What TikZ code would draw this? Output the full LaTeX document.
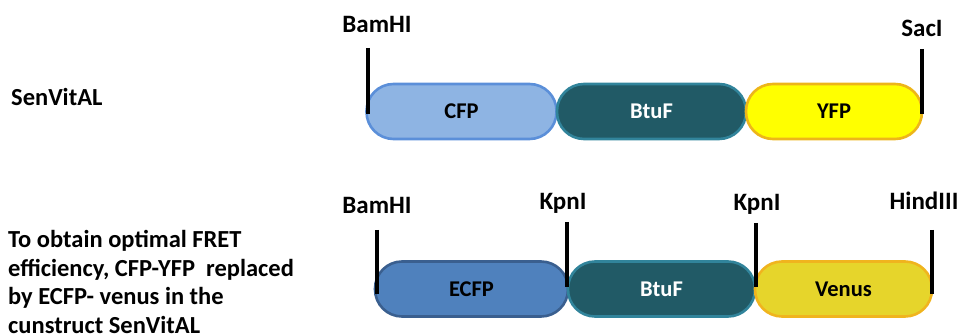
\documentclass[tikz,border=0pt]{standalone}
\usepackage{fontspec}
\setmainfont{Carlito}
\begin{document}
\begin{tikzpicture}[x=1pt,y=-1pt,
  pill/.style={draw, line width=2.6pt, rounded corners=27pt, minimum height=55pt,
    inner sep=0pt, font=\bfseries\fontsize{22.5}{26}\selectfont},
  site/.style={line width=4pt, black},
  sitelabel/.style={font=\bfseries\fontsize{25}{28}\selectfont, inner sep=0pt},
  note/.style={font=\bfseries\fontsize{24.5}{28.5}\selectfont, inner sep=0pt, anchor=west, align=left}
]
\definecolor{cfpfill}{HTML}{8EB4E3}
\definecolor{cfpline}{HTML}{5B8FD9}
\definecolor{btufill}{HTML}{215A66}
\definecolor{btuline}{HTML}{31849B}
\definecolor{yfpfill}{HTML}{FFFF00}
\definecolor{yfpline}{HTML}{EDB51A}
\definecolor{ecfpfill}{HTML}{4F81BD}
\definecolor{ecfpline}{HTML}{3A5F8F}
\definecolor{venusfill}{HTML}{E6D52B}
\definecolor{venusline}{HTML}{F0B41E}
\useasboundingbox (0,0) rectangle (963,336);

% ---- SenVitAL construct ----
\node[note] (sen) at (11,97) {SenVitAL};
\node[pill, fill=cfpfill, draw=cfpline, minimum width=190pt] (cfp) at (461.5,111.5) {CFP};
\node[pill, fill=btufill, draw=btuline, minimum width=189pt, text=white] (btuf1) at (651.5,111.5) {BtuF};
\node[pill, fill=yfpfill, draw=yfpline, minimum width=176pt] (yfp) at (834,111.5) {YFP};

\coordinate (s1t) at (368,48);  \coordinate (s1b) at (368,114);
\coordinate (s2t) at (922,49);  \coordinate (s2b) at (922,114);
\draw[site] (s1t) -- (s1b);
\draw[site] (s2t) -- (s2b);
\node[sitelabel] (bam1) at (377,24) {BamHI};
\node[sitelabel] (sac) at (922,28) {SacI};

% ---- modified construct ----
\node[note] (why) at (8,282) {To obtain optimal FRET\\efficiency, CFP-YFP\ \ replaced\\by ECFP- venus in the\\cunstruct SenVitAL};
\node[pill, fill=ecfpfill, draw=ecfpline, minimum width=193pt] (ecfp) at (471.5,289) {ECFP};
\node[pill, fill=btufill, draw=btuline, minimum width=187pt, text=white] (btuf2) at (661.5,289) {BtuF};
\node[pill, fill=venusfill, draw=venusline, minimum width=177pt] (venus) at (843.5,289) {Venus};

\coordinate (k1t) at (377,230); \coordinate (k1b) at (377,294);
\coordinate (k2t) at (567,222); \coordinate (k2b) at (567,287);
\coordinate (k3t) at (756,223); \coordinate (k3b) at (756,287);
\coordinate (k4t) at (932,230); \coordinate (k4b) at (932,294);
\draw[site] (k1t) -- (k1b);
\draw[site] (k2t) -- (k2b);
\draw[site] (k3t) -- (k3b);
\draw[site] (k4t) -- (k4b);
\node[sitelabel] (bam2) at (377,205) {BamHI};
\node[sitelabel] (kpn1) at (563,203) {KpnI};
\node[sitelabel] (kpn2) at (757,204) {KpnI};
\node[sitelabel] (hind) at (924,201) {HindIII};
\end{tikzpicture}
\end{document}
